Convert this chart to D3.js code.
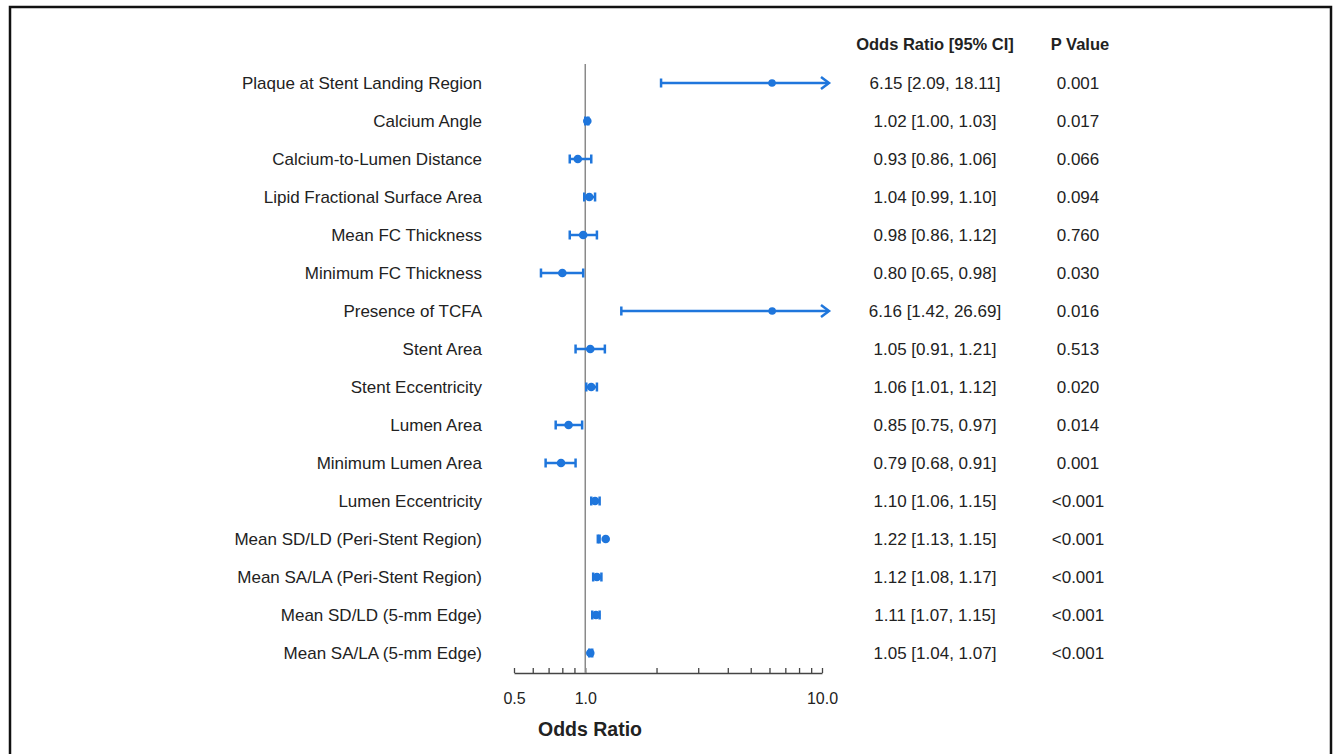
<!DOCTYPE html>
<html>
<head>
<meta charset="utf-8">
<script src="https://cdn.jsdelivr.net/npm/d3@7"></script>
<style>
  body { margin: 0; background: #fff; }
  text { font-family: Arial, "Liberation Sans", sans-serif; fill: #222; }
</style>
</head>
<body>
<div id="chart"></div>
<script>
// row labels, top to bottom
const labels = [
  "Plaque at Stent Landing Region",
  "Calcium Angle",
  "Calcium-to-Lumen Distance",
  "Lipid Fractional Surface Area",
  "Mean FC Thickness",
  "Minimum FC Thickness",
  "Presence of TCFA",
  "Stent Area",
  "Stent Eccentricity",
  "Lumen Area",
  "Minimum Lumen Area",
  "Lumen Eccentricity",
  "Mean SD/LD (Peri-Stent Region)",
  "Mean SA/LA (Peri-Stent Region)",
  "Mean SD/LD (5-mm Edge)",
  "Mean SA/LA (5-mm Edge)"
]
const oddsRatio = [6.15, 1.02, 0.93, 1.04, 0.98, 0.80, 6.16, 1.05, 1.06, 0.85, 0.79, 1.10, 1.22, 1.12, 1.11, 1.05]
const ciLow     = [2.09, 1.00, 0.86, 0.99, 0.86, 0.65, 1.42, 0.91, 1.01, 0.75, 0.68, 1.06, 1.13, 1.08, 1.07, 1.04]
const ciHigh    = [18.11, 1.03, 1.06, 1.10, 1.12, 0.98, 26.69, 1.21, 1.12, 0.97, 0.91, 1.15, 1.15, 1.17, 1.15, 1.07]
const ciText = [
  "6.15 [2.09, 18.11]", "1.02 [1.00, 1.03]", "0.93 [0.86, 1.06]", "1.04 [0.99, 1.10]",
  "0.98 [0.86, 1.12]", "0.80 [0.65, 0.98]", "6.16 [1.42, 26.69]", "1.05 [0.91, 1.21]",
  "1.06 [1.01, 1.12]", "0.85 [0.75, 0.97]", "0.79 [0.68, 0.91]", "1.10 [1.06, 1.15]",
  "1.22 [1.13, 1.15]", "1.12 [1.08, 1.17]", "1.11 [1.07, 1.15]", "1.05 [1.04, 1.07]"
]
const pText = ["0.001", "0.017", "0.066", "0.094", "0.760", "0.030", "0.016", "0.513",
  "0.020", "0.014", "0.001", "<0.001", "<0.001", "<0.001", "<0.001", "<0.001"]
const xTicks = [0.5, 0.6, 0.7, 0.8, 0.9, 1, 2, 3, 4, 5, 6, 7, 8, 9, 10]
const xTickLabels = [0.5, 1, 10]

const width = 1335, height = 754
const blue = "#1f76dc"

const rows = labels.map((l, i) => ({
  label: l, or: oddsRatio[i], lo: ciLow[i], hi: ciHigh[i], ci: ciText[i], p: pText[i]
}))

const svg = d3.select("#chart").append("svg")
  .attr("width", width)
  .attr("height", height)

// frame
svg.append("rect")
  .attr("x", 10).attr("y", 7)
  .attr("width", 1321).attr("height", 760)
  .attr("fill", "none")
  .attr("stroke", "#111")
  .attr("stroke-width", 2.5)

const x = d3.scaleLog().domain([0.5, 10]).range([514, 822])
const y = d3.scalePoint().domain(labels).range([83, 653])
const xMax = x.domain()[1]

// x axis
const xAxis = d3.axisBottom(x)
  .tickValues(xTicks)
  .tickSizeInner(-5)
  .tickSizeOuter(0)
  .tickPadding(20)
  .tickFormat(d => xTickLabels.includes(d) ? d3.format(".1f")(d) : "")

const gx = svg.append("g")
  .attr("transform", "translate(0,673)")
  .call(xAxis)
gx.select(".domain").attr("stroke", "#444").attr("stroke-width", 1.3)
gx.selectAll(".tick line").attr("stroke", "#444").attr("stroke-width", 1.3)
gx.selectAll(".tick text")
  .style("font-family", "Arial, 'Liberation Sans', sans-serif")
  .style("font-size", "16px")
  .attr("fill", "#222")

svg.append("text")
  .attr("x", 590).attr("y", 736)
  .attr("text-anchor", "middle")
  .style("font-size", "19.5px")
  .style("font-weight", "bold")
  .attr("fill", "#111")
  .text("Odds Ratio")

// reference line at OR = 1
svg.append("line")
  .attr("x1", x(1)).attr("x2", x(1))
  .attr("y1", 64).attr("y2", 673)
  .attr("stroke", "#8a8a8a")
  .attr("stroke-width", 1.5)

// row labels
svg.append("g").selectAll("text")
  .data(rows)
  .join("text")
  .attr("x", 482)
  .attr("y", d => y(d.label))
  .attr("dy", "0.35em")
  .attr("text-anchor", "end")
  .style("font-size", "17px")
  .text(d => d.label)

// error bars
const bars = svg.append("g")
  .attr("stroke", blue)
  .attr("fill", blue)
  .selectAll("g")
  .data(rows)
  .join("g")
  .attr("transform", d => `translate(0,${y(d.label)})`)

bars.append("line")
  .attr("x1", d => x(d.lo))
  .attr("x2", d => d.hi > xMax ? x(xMax) + 6 : x(d.hi))
  .attr("stroke-width", 2.5)

bars.append("line")
  .attr("x1", d => x(d.lo)).attr("x2", d => x(d.lo))
  .attr("y1", -4.5).attr("y2", 4.5)
  .attr("stroke-width", 2.5)

bars.filter(d => d.hi <= xMax).append("line")
  .attr("x1", d => x(d.hi)).attr("x2", d => x(d.hi))
  .attr("y1", -4.5).attr("y2", 4.5)
  .attr("stroke-width", 2.5)

// arrow heads where CI runs off the axis
bars.filter(d => d.hi > xMax).append("path")
  .attr("d", d => {
    const tip = x(xMax) + 7
    return `M${tip - 8},-6L${tip},0L${tip - 8},6`
  })
  .attr("fill", "none")
  .attr("stroke-width", 2.5)
  .attr("stroke-linejoin", "miter")

bars.append("circle")
  .attr("cx", d => x(d.or))
  .attr("r", d => d.hi > xMax ? 3.8 : 4.3)
  .attr("stroke", "none")

// table
const headers = [{ text: "Odds Ratio [95% CI]", x: 935 }, { text: "P Value", x: 1080 }]
svg.append("g").selectAll("text")
  .data(headers)
  .join("text")
  .attr("x", d => d.x).attr("y", 44)
  .attr("dy", "0.35em")
  .attr("text-anchor", "middle")
  .style("font-size", "16.5px")
  .style("font-weight", "bold")
  .attr("fill", "#111")
  .text(d => d.text)

const table = svg.append("g")
table.selectAll("text.ci")
  .data(rows)
  .join("text")
  .attr("class", "ci")
  .attr("x", 935)
  .attr("y", d => y(d.label))
  .attr("dy", "0.35em")
  .attr("text-anchor", "middle")
  .style("font-size", "17px")
  .text(d => d.ci)

table.selectAll("text.p")
  .data(rows)
  .join("text")
  .attr("class", "p")
  .attr("x", 1078)
  .attr("y", d => y(d.label))
  .attr("dy", "0.35em")
  .attr("text-anchor", "middle")
  .style("font-size", "17px")
  .text(d => d.p)
</script>
</body>
</html>
